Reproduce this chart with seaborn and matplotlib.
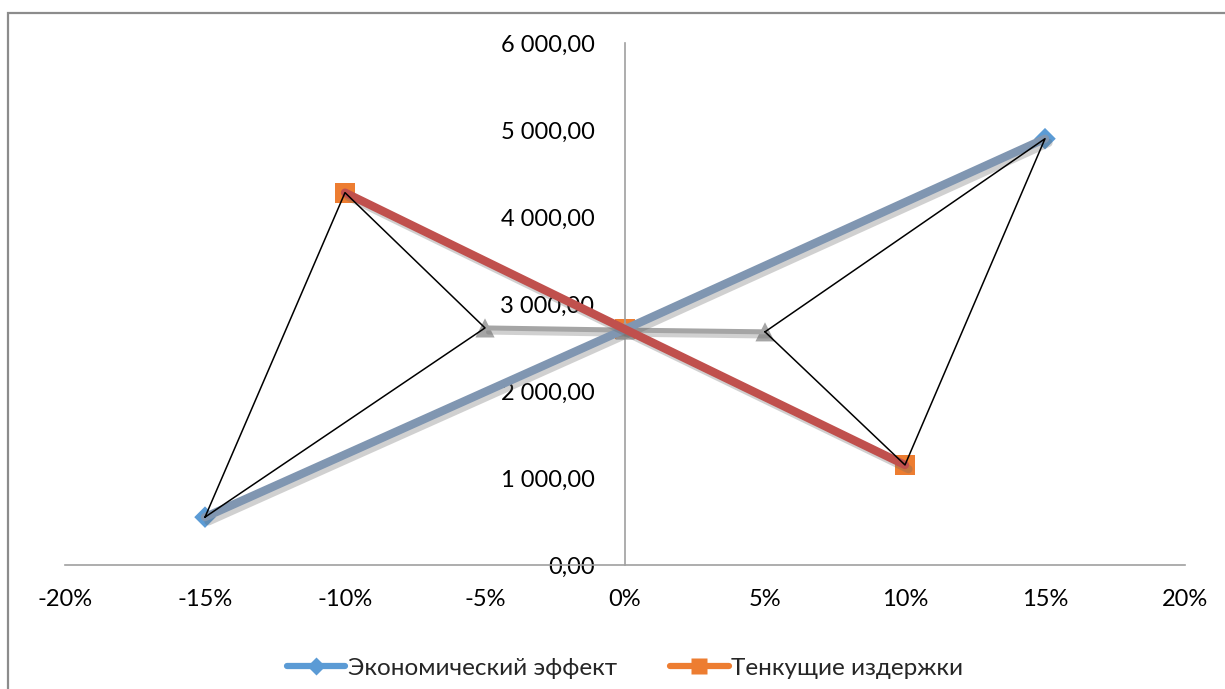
import matplotlib
matplotlib.use("Agg")
import matplotlib.pyplot as plt
import matplotlib.patheffects as pe
from matplotlib.lines import Line2D
from matplotlib.patches import Rectangle
from matplotlib.ticker import FuncFormatter, MultipleLocator
import numpy as np
import pandas as pd
import seaborn as sns

# Sensitivity data: change of parameter vs. resulting value
effect_x = [-0.15, 0.00, 0.15]
effect_y = [550, 2710, 4900]
costs_x = [-0.10, 0.00, 0.10]
costs_y = [4280, 2710, 1150]
base_x = [-0.05, 0.00, 0.05]
base_y = [2725, 2700, 2680]

legend_labels = ["Экономический эффект", "Тенкущие издержки"]
x_ticks = [-0.20, -0.15, -0.10, -0.05, 0.00, 0.05, 0.10, 0.15, 0.20]
y_ticks = [0, 1000, 2000, 3000, 4000, 5000, 6000]

sns.set_theme(style="white")
plt.rcParams["font.family"] = ["Lato", "DejaVu Sans"]

W, H = 1225, 689
fig = plt.figure(figsize=(W / 100, H / 100), dpi=100)
ax = fig.add_axes([65 / W, (H - 565) / H, 1120 / W, 522 / H])

effect = pd.DataFrame({"x": effect_x, "y": effect_y})
costs = pd.DataFrame({"x": costs_x, "y": costs_y})
base = pd.DataFrame({"x": base_x, "y": base_y})

shadow = [pe.SimpleLineShadow(offset=(2.5, -3), shadow_color="#666666", alpha=0.3),
          pe.Normal()]

# markers sit beneath the series lines
sns.scatterplot(data=effect, x="x", y="y", marker="D", s=120, color="#5B9BD5",
                edgecolor="none", ax=ax, zorder=2)
sns.scatterplot(data=costs, x="x", y="y", marker="s", s=210, color="#ED7D31",
                edgecolor="none", ax=ax, zorder=2)
sns.scatterplot(data=base, x="x", y="y", marker="^", s=190, color="#A5A5A5",
                edgecolor="none", ax=ax, zorder=2)

sns.lineplot(data=base, x="x", y="y", color="#A5A5A5", lw=3.6, sort=False,
             estimator=None, ax=ax, zorder=3, path_effects=shadow)
sns.lineplot(data=effect, x="x", y="y", color="#8096B1", lw=6, sort=False,
             estimator=None, ax=ax, zorder=4, path_effects=shadow)
sns.lineplot(data=costs, x="x", y="y", color="#C0504D", lw=6, sort=False,
             estimator=None, ax=ax, zorder=5, path_effects=shadow)

# thin outlines joining the extreme points on each side
left_tri = pd.DataFrame({"x": [effect_x[0], costs_x[0], base_x[0], effect_x[0]],
                         "y": [effect_y[0], costs_y[0], base_y[0], effect_y[0]]})
right_tri = pd.DataFrame({"x": [base_x[2], effect_x[2], costs_x[2], base_x[2]],
                          "y": [base_y[2], effect_y[2], costs_y[2], base_y[2]]})
for tri in (left_tri, right_tri):
    sns.lineplot(data=tri, x="x", y="y", color="black", lw=1.1, sort=False,
                 estimator=None, ax=ax, zorder=6)

ax.set_xlim(-0.20, 0.20)
ax.set_ylim(0, 6000)
ax.set_xticks(x_ticks)
ax.yaxis.set_major_locator(MultipleLocator(1000))
ax.xaxis.set_major_formatter(FuncFormatter(lambda v, p: f"{v * 100:.0f}%".replace("-0%", "0%")))
ax.yaxis.set_major_formatter(FuncFormatter(
    lambda v, p: f"{v:,.2f}".replace(",", " ").replace(".", ",")))
ax.set_xlabel("")
ax.set_ylabel("")

for s in ("top", "right"):
    ax.spines[s].set_visible(False)
ax.spines["left"].set_position(("data", 0))
ax.spines["left"].set_color("#A0A0A0")
ax.spines["bottom"].set_color("#A0A0A0")
ax.spines["left"].set_linewidth(1.2)
ax.spines["bottom"].set_linewidth(1.2)
ax.tick_params(axis="both", length=0, labelsize=17, colors="black")
ax.tick_params(axis="x", pad=17)
ax.tick_params(axis="y", pad=22)
ax.patch.set_alpha(0)

handles = [
    Line2D([], [], color="#5B9BD5", lw=4.5, marker="D", markersize=9,
           markerfacecolor="#5B9BD5", markeredgecolor="none"),
    Line2D([], [], color="#ED7D31", lw=4.5, marker="s", markersize=12,
           markerfacecolor="#ED7D31", markeredgecolor="none"),
]
fig.legend(handles, legend_labels, loc="center", bbox_to_anchor=(625 / W, 1 - 668 / H),
           ncol=2, frameon=False, fontsize=17.5, handlelength=2.4, handletextpad=0.1,
           columnspacing=2.2)

# chart area border
fig.patches.append(Rectangle((8 / W, -0.1), 1.2, 1 - 13 / H + 0.1,
                             transform=fig.transFigure, fill=False,
                             edgecolor="#8C8C8C", lw=1.6))

fig.savefig("out.png", dpi=100)
